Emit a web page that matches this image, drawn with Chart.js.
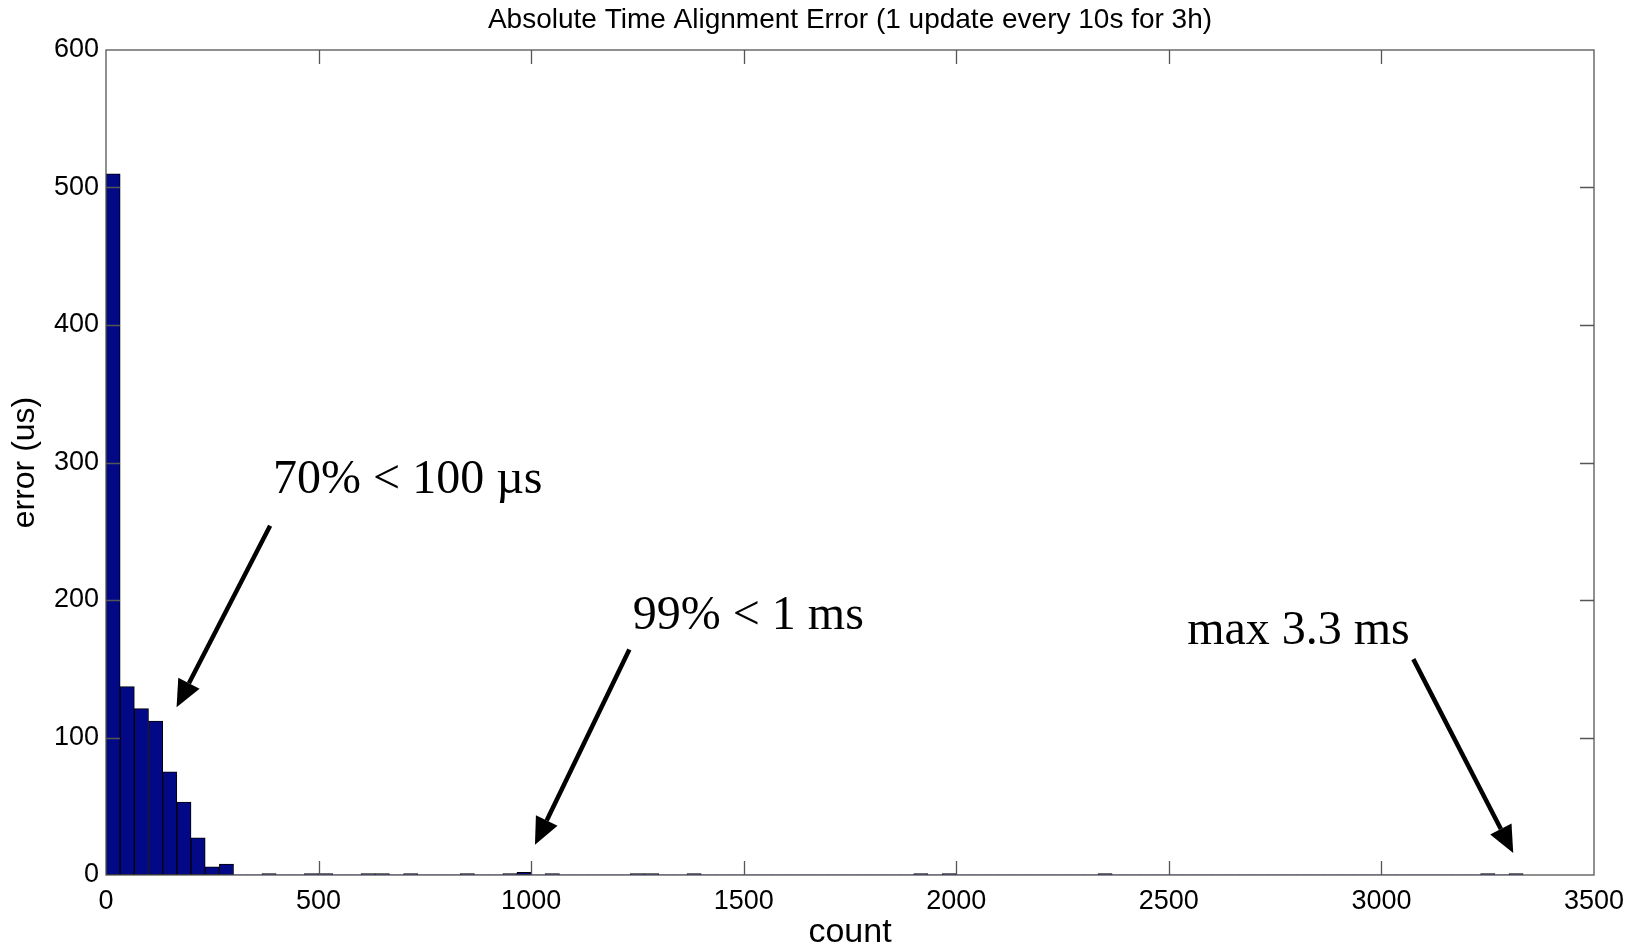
<!DOCTYPE html>
<html>
<head>
<meta charset="utf-8">
<script src="https://cdn.jsdelivr.net/npm/chart.js@4"></script>
<style>
  html, body { margin: 0; padding: 0; background: #fff; }
  canvas { display: block; }
</style>
</head>
<body>
<canvas id="histChart" width="1642" height="950" style="width:1642px;height:950px"></canvas>
<script>
// histogram: 100 bins of ~33.3 us each, counts
const binWidth = 3333.3 / 100;
const counts = [
  510, 137, 121, 112, 75, 53, 27, 6, 8, 0,
  0, 1, 0, 0, 1, 1, 0, 0, 1, 1,
  0, 1, 0, 0, 0, 1, 0, 0, 1, 2,
  0, 1, 0, 0, 0, 0, 0, 1, 1, 0,
  0, 1, 0, 0, 0, 0, 0, 0, 0, 0,
  0, 0, 0, 0, 0, 0, 0, 1, 0, 1,
  0, 0, 0, 0, 0, 0, 0, 0, 0, 0,
  1, 0, 0, 0, 0, 0, 0, 0, 0, 0,
  0, 0, 0, 0, 0, 0, 0, 0, 0, 0,
  0, 0, 0, 0, 0, 0, 0, 1, 0, 1
];
const xTicks = [0, 500, 1000, 1500, 2000, 2500, 3000, 3500];
const yTicks = [0, 100, 200, 300, 400, 500, 600];
const chartTitle = 'Absolute Time Alignment Error (1 update every 10s for 3h)';

// notes with arrows, in data units (text anchor = left/baseline)
const notes = [
  { text: '70% < 100 \u00b5s', tx: 393, ty: 278, from: [386, 254], to: [166, 122] },
  { text: '99% < 1 ms', tx: 1239, ty: 179, from: [1231, 164], to: [1009, 22] },
  { text: 'max 3.3 ms', tx: 2543, ty: 168, from: [3075, 157], to: [3310, 16] }
];

const SANS = '"Liberation Sans", Arial, Helvetica, sans-serif';
const SERIF = '"Liberation Serif", "Times New Roman", serif';

const boxPlugin = {
  id: 'matlabBox',
  afterDatasetsDraw(chart) {
    const { ctx, chartArea: a, scales: { x, y } } = chart;
    const tl = 14;
    ctx.save();
    ctx.strokeStyle = '#555';
    ctx.lineWidth = 1.3;
    ctx.strokeRect(a.left, a.top, a.right - a.left, a.bottom - a.top);
    ctx.beginPath();
    xTicks.slice(1, -1).forEach(v => {
      const px = Math.round(x.getPixelForValue(v)) + 0.5;
      ctx.moveTo(px, a.bottom); ctx.lineTo(px, a.bottom - tl);
      ctx.moveTo(px, a.top); ctx.lineTo(px, a.top + tl);
    });
    yTicks.slice(1, -1).forEach(v => {
      const py = Math.round(y.getPixelForValue(v)) + 0.5;
      ctx.moveTo(a.left, py); ctx.lineTo(a.left + tl, py);
      ctx.moveTo(a.right, py); ctx.lineTo(a.right - tl, py);
    });
    ctx.stroke();

    // title centred over the axes, like matlab does
    ctx.fillStyle = '#000';
    ctx.font = '28px ' + SANS;
    ctx.textAlign = 'center';
    ctx.textBaseline = 'middle';
    ctx.fillText(chartTitle, (a.left + a.right) / 2, 20);
    ctx.restore();
  }
};

const notePlugin = {
  id: 'notes',
  afterDraw(chart) {
    const { ctx, scales: { x, y } } = chart;
    ctx.save();
    ctx.fillStyle = '#000';
    ctx.strokeStyle = '#000';
    ctx.font = '48px ' + SERIF;
    ctx.textAlign = 'left';
    ctx.textBaseline = 'alphabetic';
    notes.forEach(n => {
      ctx.fillText(n.text, x.getPixelForValue(n.tx), y.getPixelForValue(n.ty));
      const x0 = x.getPixelForValue(n.from[0]), y0 = y.getPixelForValue(n.from[1]);
      const x1 = x.getPixelForValue(n.to[0]), y1 = y.getPixelForValue(n.to[1]);
      const ang = Math.atan2(y1 - y0, x1 - x0);
      const hl = 27, hw = 12;
      const bx = x1 - hl * Math.cos(ang), by = y1 - hl * Math.sin(ang);
      ctx.lineWidth = 4.5;
      ctx.beginPath();
      ctx.moveTo(x0, y0);
      ctx.lineTo(bx, by);
      ctx.stroke();
      ctx.beginPath();
      ctx.moveTo(x1, y1);
      ctx.lineTo(bx + hw * Math.sin(ang), by - hw * Math.cos(ang));
      ctx.lineTo(bx - hw * Math.sin(ang), by + hw * Math.cos(ang));
      ctx.closePath();
      ctx.fill();
    });
    ctx.restore();
  }
};

new Chart(document.getElementById('histChart'), {
  type: 'bar',
  data: {
    datasets: [{
      data: counts.map((c, i) => ({ x: (i + 0.5) * binWidth, y: c })),
      backgroundColor: 'rgb(3, 8, 135)',
      borderColor: '#000',
      borderWidth: c => (c.raw && c.raw.y > 0 ? 1 : 0),
      borderSkipped: false,
      barPercentage: 1,
      categoryPercentage: 1
    }]
  },
  options: {
    responsive: false,
    animation: false,
    layout: { padding: { left: 0, right: 48, top: 50, bottom: 0 } },
    plugins: {
      legend: { display: false },
      tooltip: { enabled: false },
      title: { display: false }
    },
    scales: {
      x: {
        type: 'linear',
        offset: false,
        min: 0,
        max: 3500,
        afterBuildTicks: s => { s.ticks = xTicks.map(v => ({ value: v })); },
        afterFit: s => { s.height = 75; },
        grid: { display: false, drawTicks: false, offset: false },
        border: { display: false },
        ticks: { color: '#000', font: { family: SANS, size: 27 }, padding: 10, maxRotation: 0, callback: v => String(v) },
        title: {
          display: true, text: 'count', color: '#000',
          font: { family: SANS, size: 34, lineHeight: 1.0 }, padding: 0
        }
      },
      y: {
        min: 0,
        max: 600,
        afterBuildTicks: s => { s.ticks = yTicks.map(v => ({ value: v })); },
        afterFit: s => { s.width = 106; },
        grid: { display: false, drawTicks: false },
        border: { display: false },
        ticks: { color: '#000', font: { family: SANS, size: 27 }, padding: 7, callback: v => String(v) },
        title: {
          display: true, text: 'error (us)', color: '#000',
          font: { family: SANS, size: 32, lineHeight: 1.2 }, padding: { top: 6, bottom: 0 }
        }
      }
    }
  },
  plugins: [boxPlugin, notePlugin]
});
</script>
</body>
</html>
